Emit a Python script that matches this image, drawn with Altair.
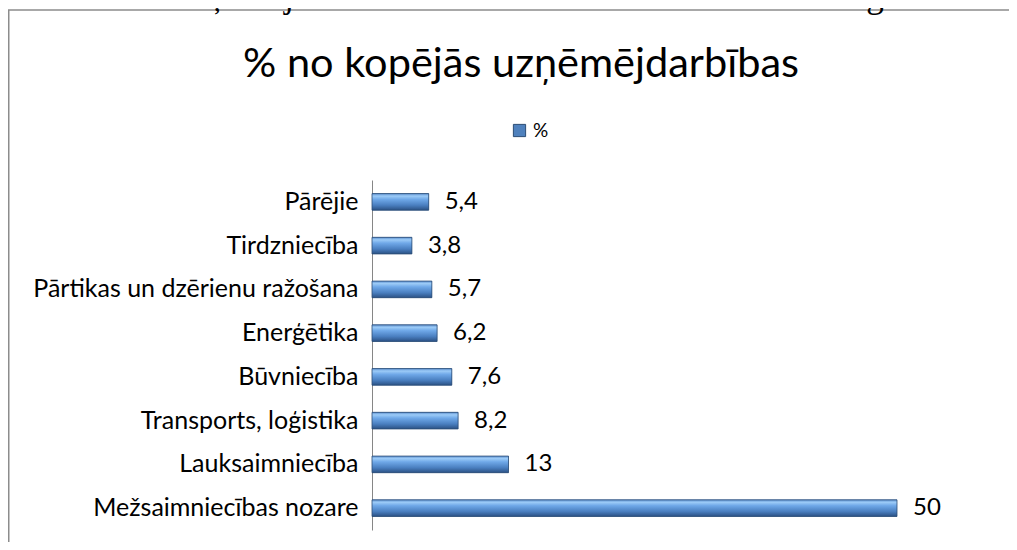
import altair as alt
import pandas as pd

categories = ["Pārējie", "Tirdzniecība", "Pārtikas un dzērienu ražošana", "Enerģētika",
              "Būvniecība", "Transports, loģistika", "Lauksaimniecība", "Mežsaimniecības nozare"]
values = [5.4, 3.8, 5.7, 6.2, 7.6, 8.2, 13, 50]
value_labels = ["5,4", "3,8", "5,7", "6,2", "7,6", "8,2", "13", "50"]
series_name = "%"
chart_title = "% no kopējās uzņēmējdarbības"
page_title = "Uzņēmējdarbības nozares Gulbenes novadā 2016.gadā"

df = pd.DataFrame({"cat": categories, "val": values, "lab": value_labels, "series": series_name})

FONT = "Lato"

y_enc = alt.Y("cat:N", sort=categories,
              scale=alt.Scale(paddingInner=0.62, paddingOuter=0.31),
              axis=alt.Axis(title=None, ticks=False, domainColor="#868686", domainWidth=1,
                            labelPadding=14, labelFontSize=25, labelFont=FONT,
                            labelColor="#000000", labelLimit=600, grid=False))
x_enc = alt.X("val:Q", scale=alt.Scale(domain=[0, 60], nice=False), axis=None)

base = alt.Chart(df)

legend_bars = base.mark_bar().encode(
    x=x_enc, y=y_enc,
    color=alt.Color("series:N", scale=alt.Scale(range=["#4F81BD"]),
                    legend=alt.Legend(title=None, orient="none", legendX=138, legendY=-59,
                                      symbolType="square", symbolSize=150,
                                      symbolStrokeColor="#2C4D75", symbolStrokeWidth=1,
                                      labelFont=FONT, labelFontSize=19, labelColor="#000000")))

gradient = {"gradient": "linear", "x1": 0, "x2": 0, "y1": 0, "y2": 1,
            "stops": [{"offset": 0.0, "color": "#5C8FCF"},
                      {"offset": 0.15, "color": "#9CCBF7"},
                      {"offset": 0.35, "color": "#6FA8E8"},
                      {"offset": 0.7, "color": "#4A7FC0"},
                      {"offset": 1.0, "color": "#2B5184"}]}

bars = base.mark_bar(color=gradient, stroke="#2C4D75", strokeWidth=0.8).encode(x=x_enc, y=y_enc)

texts = base.mark_text(align="left", baseline="middle", dx=16, fontSize=24, font=FONT,
                       color="#000000").encode(x=x_enc, y=y_enc, text="lab:N")

frame = alt.Chart(pd.DataFrame({"a": [0]})).mark_rect(
    fill="transparent", stroke="#8C8C8C", strokeWidth=1.5).encode(
    x=alt.value(-363.25), x2=alt.value(2000), y=alt.value(-170), y2=alt.value(2000))

top_text = alt.Chart(pd.DataFrame({"t": [page_title]})).mark_text(
    font="Liberation Serif", fontSize=35, align="center", baseline="alphabetic",
    color="#000000").encode(x=alt.value(178), y=alt.value(-173), text="t:N")

title_text = alt.Chart(pd.DataFrame({"t": [chart_title]})).mark_text(
    font=FONT, fontSize=41.5, align="center", baseline="alphabetic",
    color="#000000").encode(x=alt.value(149), y=alt.value(-103), text="t:N")

chart = alt.layer(frame, top_text, title_text, legend_bars, bars, texts).properties(
    width=630, height=350,
    autosize=alt.AutoSizeParams(type="none"),
    padding={"left": 364, "top": 172, "right": 7, "bottom": 12},
).configure(background="white").configure_view(stroke=None)

chart.save("out.html", embed_options={"renderer": "svg", "actions": False})
